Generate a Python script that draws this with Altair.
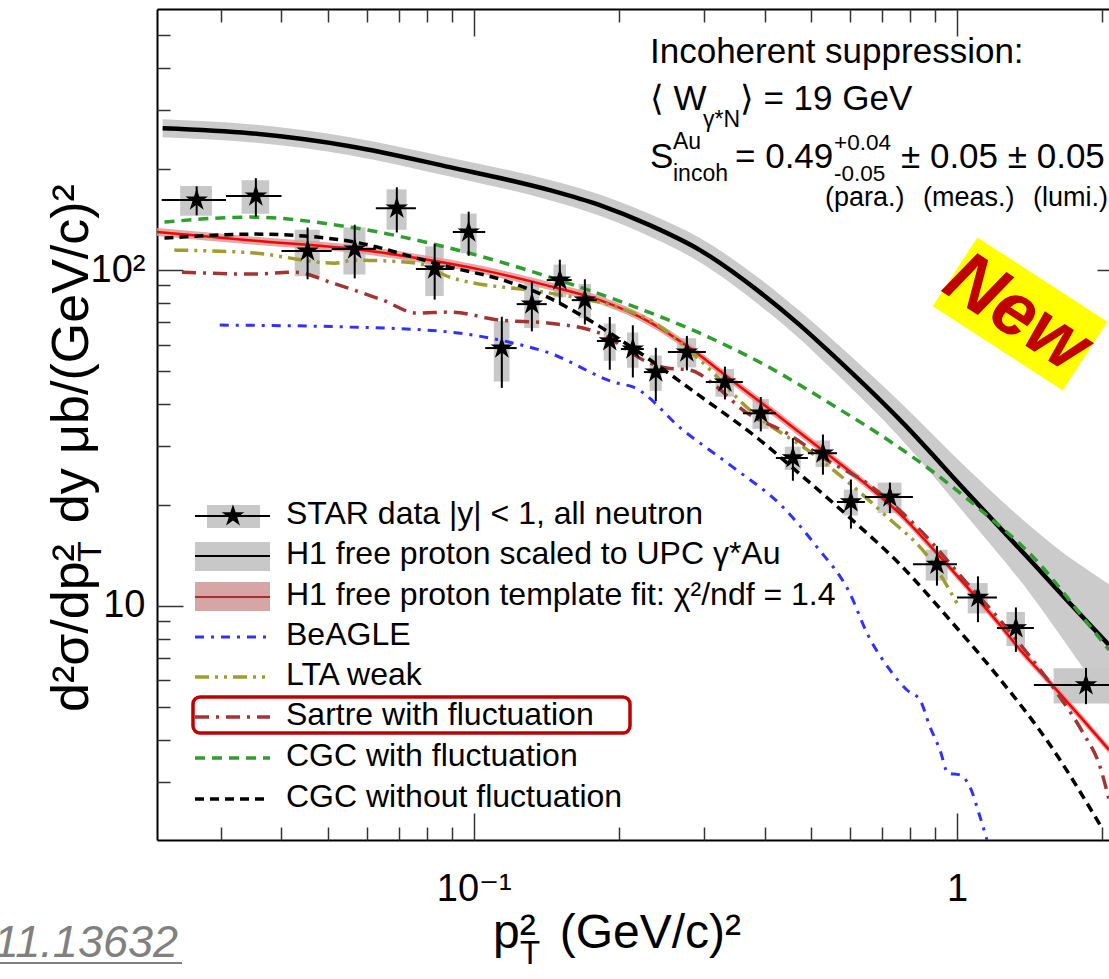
import altair as alt
import pandas as pd

FONT = "Liberation Sans, Arial, Helvetica, DejaVu Sans, sans-serif"

# ---------------- STAR data points ----------------
star_pt2 = [0.0267, 0.0354, 0.0453, 0.0567, 0.0693, 0.0830, 0.0976, 0.1143, 0.1319,
            0.1507, 0.1698, 0.1912, 0.2134, 0.2381, 0.2761, 0.3310, 0.3927, 0.4576,
            0.5280, 0.6034, 0.7265, 0.9091, 1.1053, 1.3245, 1.8496]
star_xsec = [161.6, 166.1, 113.9, 115.5, 152.9, 100.7, 129.8, 58.6, 79.2,
             93.4, 81.4, 61.5, 58.2, 49.7, 57.0, 46.4, 37.5, 27.6,
             28.5, 20.4, 21.1, 13.3, 10.6, 8.60, 5.82]
star_stat = [16.0, 21.7, 20.0, 21.0, 23.5, 19.0, 19.5, 14.0, 13.5,
             14.0, 12.5, 11.0, 10.3, 9.0, 6.7, 5.2, 4.4, 4.0,
             3.9, 3.4, 2.2, 1.8, 1.65, 1.3, 0.72]
star_sys = [16.5, 19.0, 18.0, 18.5, 21.0, 17.0, 17.5, 12.0, 12.0,
            10.5, 9.5, 7.8, 7.0, 6.0, 5.7, 4.4, 3.8, 2.2,
            2.6, 1.8, 2.2, 1.4, 1.1, 1.0, 0.7]
bin_edges = [0.0226, 0.0307, 0.0400, 0.0508, 0.0627, 0.0759, 0.0905, 0.1056, 0.1227,
             0.1416, 0.1595, 0.1798, 0.2016, 0.2249, 0.2522, 0.3022, 0.3606, 0.4220,
             0.4915, 0.5645, 0.6450, 0.8108, 1.0, 1.2100, 1.4430, 2.5]

# ---------------- model curves ----------------
h1_pt2 = [0.0227, 0.0344, 0.0554, 0.0892, 0.1436, 0.1823, 0.2313, 0.2938, 0.3908,
          0.4731, 0.5537, 0.7621, 1.0488, 1.4371, 1.6894, 1.9124, 2.0644]
h1_xsec = [264.6, 255.7, 233.9, 202.6, 173.0, 156.1, 136.1, 114.7, 86.0,
           68.6, 55.8, 35.8, 21.8, 13.4, 10.4, 8.60, 7.65]
h1_hi = [281.4, 272.0, 248.8, 216.2, 185.5, 168.0, 147.0, 124.6, 94.2,
         75.5, 61.9, 40.5, 25.7, 17.0, 14.1, 12.5, 11.6]
h1_lo = [248.8, 240.4, 219.9, 189.9, 161.4, 145.1, 126.0, 105.6, 78.5,
         62.4, 50.3, 31.7, 18.5, 10.6, 7.65, 5.93, 5.07]

fit_pt2 = [0.02207, 0.0352, 0.0567, 0.0762, 0.1044, 0.1436, 0.1823, 0.2313, 0.2801,
           0.3438, 0.4042, 0.5203, 0.6512, 0.7621, 0.8918, 1.0488, 1.2274, 1.3310,
           1.5804, 1.8235, 2.0644]
fit_xsec = [129.8, 122.3, 115.5, 108.6, 100.0, 89.6, 81.4, 70.0, 58.6,
            46.7, 39.1, 29.5, 22.9, 18.8, 14.8, 11.4, 8.78, 7.60,
            5.78, 4.58, 3.73]
fit_hi = [133.4, 125.7, 118.7, 111.6, 102.8, 92.1, 83.7, 72.0, 60.2,
          48.0, 40.2, 30.3, 23.5, 19.3, 15.2, 11.7, 9.03, 7.81,
          5.94, 4.71, 3.83]
fit_lo = [126.3, 119.0, 112.4, 105.7, 97.3, 87.2, 79.2, 68.1, 57.0,
          45.4, 38.0, 28.7, 22.3, 18.3, 14.4, 11.1, 8.54, 7.39,
          5.62, 4.45, 3.63]

beagle_pt2 = [0.0298, 0.0554, 0.0892, 0.1132, 0.1436, 0.1977, 0.2134, 0.2709, 0.3438,
              0.4363, 0.5129, 0.6004, 0.6512, 0.7265, 0.7880, 0.8383, 0.8792, 0.9221,
              0.9581, 1.0144, 1.0639, 1.1158, 1.1538]
beagle_xsec = [68.6, 67.7, 65.4, 61.9, 56.6, 46.1, 44.9, 33.4, 25.9,
               19.7, 15.0, 10.9, 8.31, 6.45, 5.62, 5.25, 4.37, 3.73,
               3.18, 3.14, 2.89, 2.36, 2.01]

lta_pt2 = [0.0240, 0.0352, 0.0515, 0.0567, 0.0762, 0.0892, 0.1436, 0.1977, 0.2313,
           0.2938, 0.3728, 0.5129, 0.7027, 0.8918, 1.0]
lta_xsec = [114.7, 112.4, 104.9, 107.1, 104.9, 95.3, 85.4, 77.6, 71.0,
            54.0, 38.3, 27.8, 18.9, 13.4, 10.2]

sartre_pt2 = [0.0249, 0.0352, 0.0426, 0.0510, 0.0648, 0.0762, 0.0892, 0.1132, 0.1436,
              0.1823, 0.2313, 0.2509, 0.2801, 0.3185, 0.3606, 0.4446, 0.5379, 0.6512,
              0.8264, 1.0488, 1.2274, 1.6106, 1.8235, 1.9779, 2.0644]
sartre_xsec = [98.6, 97.3, 98.6, 91.5, 81.4, 74.5, 75.0, 71.0, 69.5,
               64.9, 52.9, 51.1, 50.4, 44.9, 38.3, 32.7, 27.2, 23.2,
               17.2, 11.7, 9.08, 5.51, 4.19, 3.32, 2.65]

cgcf_pt2 = [0.0229, 0.0344, 0.0554, 0.0892, 0.1436, 0.2134, 0.2938, 0.4042, 0.5537,
            0.7370, 0.8918, 1.1319, 1.4371, 1.9124, 2.0644]
cgcf_xsec = [139.0, 143.8, 134.3, 116.3, 95.3, 78.1, 64.9, 51.8, 39.6,
             30.5, 25.1, 19.05, 14.0, 8.48, 7.40]

cgcn_pt2 = [0.0229, 0.0352, 0.0473, 0.0567, 0.0762, 0.0892, 0.1132, 0.1436, 0.1681,
            0.2134, 0.2938, 0.3908, 0.4731, 0.6004, 0.7621, 0.9672, 1.2274, 1.5578, 1.9779]
cgcn_xsec = [124.5, 128.0, 125.4, 121.2, 108.6, 102.1, 94.0, 82.5, 72.9,
             58.6, 42.2, 31.2, 24.7, 18.3, 13.3, 9.08, 6.06, 3.86, 2.23]

x_major = [0.1, 1]
x_minor = [0.03, 0.04, 0.05, 0.06, 0.07, 0.08, 0.09, 0.2, 0.3, 0.4, 0.5, 0.6, 0.7, 0.8, 0.9, 2]
y_major = [10, 100]
y_minor = [3, 4, 5, 6, 7, 8, 9, 20, 30, 40, 50, 60, 70, 80, 90, 200, 300, 400, 500]

# ---------------- layout ----------------
W, H = 952, 831
LEFT, TOP = 157, 9
xscale = alt.Scale(type="log", domain=[0.0221, 2.064], nice=False)
yscale = alt.Scale(type="log", domain=[2.01, 599], nice=False)

STAR = ("M0,-1 L0.223,-0.307 L0.951,-0.309 L0.361,0.117 L0.588,0.809 L0,0.38 "
        "L-0.588,0.809 L-0.361,0.117 L-0.951,-0.309 L-0.223,-0.307 Z")
STAR_SIZE = 560

one = pd.DataFrame({"k": [0]})


def X(f):
    return alt.X(f, type="quantitative", scale=xscale, axis=None)


def Y(f):
    return alt.Y(f, type="quantitative", scale=yscale, axis=None)


def curve_df(xs, ys):
    return pd.DataFrame({"x": xs, "y": ys})


def line(xs, ys, color, width, dash=None):
    kw = dict(color=color, strokeWidth=width, clip=True, interpolate="monotone")
    if dash:
        kw["strokeDash"] = dash
    return alt.Chart(curve_df(xs, ys)).mark_line(**kw).encode(x=X("x"), y=Y("y"))


def band(xs, lo, hi, color, opacity=1.0):
    df = pd.DataFrame({"x": xs, "lo": lo, "hi": hi})
    return alt.Chart(df).mark_area(color=color, opacity=opacity, clip=True,
                                   interpolate="monotone").encode(
        x=X("x"), y=Y("lo"), y2=alt.Y2("hi"))


def txt(s, px, py, size, align="left", baseline="alphabetic", angle=0,
        color="black", style="normal", weight="normal"):
    return alt.Chart(one).mark_text(
        text=s, font=FONT, fontSize=size, align=align, baseline=baseline,
        angle=angle, color=color, fontStyle=style, fontWeight=weight
    ).encode(x=alt.value(px - LEFT), y=alt.value(py - TOP))


def hrule(x1, x2, py, color, width, dash=None):
    kw = dict(color=color, strokeWidth=width)
    if dash:
        kw["strokeDash"] = dash
    return alt.Chart(one).mark_rule(**kw).encode(
        x=alt.value(x1 - LEFT), x2=alt.value(x2 - LEFT), y=alt.value(py - TOP))


def box(x1, y1, x2, y2, **kw):
    return alt.Chart(one).mark_rect(**kw).encode(
        x=alt.value(x1 - LEFT), x2=alt.value(x2 - LEFT),
        y=alt.value(y1 - TOP), y2=alt.value(y2 - TOP))


# ---------------- axes (ROOT-like frame with inward ticks) ----------------
def ax(**kw):
    base = dict(title=None, grid=False, labels=False, ticks=False, domain=False,
                tickColor="#333333", tickWidth=1.5, domainColor="black", domainWidth=2)
    base.update(kw)
    return alt.Axis(**base)


dummy = pd.DataFrame({"x": [0.1], "y": [10.0]})


def axis_layer(xa, ya):
    return alt.Chart(dummy).mark_point(opacity=0).encode(
        x=alt.X("x", type="quantitative", scale=xscale, axis=xa),
        y=alt.Y("y", type="quantitative", scale=yscale, axis=ya))


axis_layers = [
    axis_layer(
        ax(orient="bottom", domain=True, labels=True, values=x_major, tickSize=0,
           labelExpr="datum.value >= 1 ? '1' : '10⁻¹'", labelFont=FONT,
           labelFontSize=38, labelColor="black", labelPadding=30),
        ax(orient="left", domain=True, labels=True, values=y_major, tickSize=0,
           labelExpr="datum.value >= 100 ? '10²' : '10'", labelFont=FONT,
           labelFontSize=38, labelColor="black", labelPadding=12)),
    axis_layer(ax(orient="bottom", ticks=True, values=x_minor, tickSize=13, offset=-13),
               ax(orient="left", ticks=True, values=y_minor, tickSize=13, offset=-13)),
    axis_layer(ax(orient="bottom", ticks=True, values=x_major, tickSize=27, offset=-27),
               ax(orient="left", ticks=True, values=y_major, tickSize=26, offset=-26)),
    axis_layer(ax(orient="top", domain=True),
               ax(orient="right", ticks=True, values=y_major, tickSize=26, offset=-12)),
    axis_layer(ax(orient="top", ticks=True, values=x_minor, tickSize=13, offset=-13), None),
    axis_layer(ax(orient="top", ticks=True, values=x_major, tickSize=27, offset=-27), None),
]

# ---------------- data layers ----------------
pts = pd.DataFrame({"x": star_pt2, "y": star_xsec, "stat": star_stat, "sys": star_sys,
                    "xlo": bin_edges[:-1], "xhi": bin_edges[1:]})
pts["ylo"] = pts["y"] - pts["stat"]
pts["yhi"] = pts["y"] + pts["stat"]
pts["slo"] = pts["y"] - pts["sys"]
pts["shi"] = pts["y"] + pts["sys"]
half = (pts["xhi"] - pts["xlo"]) * 0.25
pts["bxlo"] = pts["x"] - half
pts["bxhi"] = pts["x"] + half

base_pts = alt.Chart(pts)
sys_boxes = base_pts.mark_rect(color="#c8c8c8", clip=True).encode(
    x=X("bxlo"), x2=alt.X2("bxhi"), y=Y("slo"), y2=alt.Y2("shi"))
xerr = base_pts.mark_rule(color="black", strokeWidth=2, clip=True).encode(
    x=X("xlo"), x2=alt.X2("xhi"), y=Y("y"))
yerr = base_pts.mark_rule(color="black", strokeWidth=2, clip=True).encode(
    x=X("x"), y=Y("ylo"), y2=alt.Y2("yhi"))
stars = base_pts.mark_point(shape=STAR, filled=True, color="black", size=STAR_SIZE,
                            opacity=1, clip=True).encode(x=X("x"), y=Y("y"))

GREEN = "#2f9e2f"
OLIVE = "#a09c30"
BROWN = "#a33434"
BLUE = "#3030ff"

data_layers = [
    band(h1_pt2, h1_lo, h1_hi, "#cbcbcb"),
    line(h1_pt2, h1_xsec, "black", 4.5),
    sys_boxes,
    band(fit_pt2, fit_lo, fit_hi, "#d79a9a", 0.85),
    line(fit_pt2, fit_xsec, "#ff0000", 2.5),
    line(beagle_pt2, beagle_xsec, BLUE, 3, [9, 7, 3, 7]),
    line(lta_pt2, lta_xsec, OLIVE, 3.5, [14, 6, 3, 6, 3, 6]),
    line(sartre_pt2, sartre_xsec, BROWN, 3.5, [14, 7, 3, 7]),
    line(cgcf_pt2, cgcf_xsec, GREEN, 3.5, [10, 7]),
    line(cgcn_pt2, cgcn_xsec, "black", 3.5, [9, 6]),
    xerr, yerr, stars,
]

# ---------------- legend ----------------
row_y = [516, 556, 597, 637, 677, 717, 758, 799]
labels = ["STAR data |y| < 1, all neutron",
          "H1 free proton scaled to UPC γ*Au",
          "H1 free proton template fit: χ²/ndf = 1.4",
          "BeAGLE", "LTA weak", "Sartre with fluctuation",
          "CGC with fluctuation", "CGC without fluctuation"]
legend = [
    box(207, 505, 260, 528, color="#c8c8c8"),
    hrule(195, 270, row_y[0], "black", 2),
    alt.Chart(one).mark_point(shape=STAR, filled=True, color="black", size=STAR_SIZE, opacity=1)
    .encode(x=alt.value(233 - LEFT), y=alt.value(row_y[0] - TOP)),
    box(195, 542, 270, 571, color="#c8c8c8"),
    hrule(195, 270, row_y[1], "black", 2),
    box(195, 582, 270, 611, color="#d6a6a6"),
    hrule(195, 270, row_y[2], "#b02a2a", 2),
    hrule(195, 270, row_y[3], BLUE, 3, [9, 7, 3, 7]),
    hrule(195, 270, row_y[4], OLIVE, 3.5, [14, 6, 3, 6, 3, 6]),
    hrule(195, 270, row_y[5], BROWN, 3.5, [14, 7, 3, 7]),
    hrule(195, 270, row_y[6], GREEN, 3.5, [10, 7]),
    hrule(195, 270, row_y[7], "black", 3.5, [9, 6]),
    box(193, 697, 630, 733, fillOpacity=0, stroke="#c00000", strokeWidth=3.5, cornerRadius=7),
]
for lab, ry_ in zip(labels, row_y):
    legend.append(txt(lab, 286, ry_ + 8, 32))

# ---------------- annotations ----------------
notes = [
    txt("Incoherent suppression:", 650, 63, 35),
    txt("⟨ W", 650, 110, 35),
    txt("γ*N", 703, 127, 23),
    txt("⟩ = 19 GeV", 740, 110, 35),
    txt("S", 650, 168, 35),
    txt("Au", 673, 149, 23),
    txt("incoh", 673, 181, 23),
    txt("= 0.49", 735, 168, 35),
    txt("+0.04", 834, 150, 22.5),
    txt("-0.05", 834, 181, 22.5),
    txt("± 0.05 ± 0.05", 901, 168, 35),
    txt("(para.)", 825, 206, 27),
    txt("(meas.)", 923, 206, 27),
    txt("(lumi.)", 1033, 206, 27),
    # "New" badge
    alt.Chart(one).mark_point(
        shape="M-1,-0.529 L1,-0.529 L1,0.529 L-1,0.529 Z", size=24025, angle=33,
        filled=True, color="#ffff00", opacity=1
    ).encode(x=alt.value(1020 - LEFT), y=alt.value(314 - TOP)),
    txt("New", 1017, 313, 75, align="center", baseline="middle", angle=33,
        color="#c00000", style="italic", weight="bold"),
    # axis titles
    txt("d²σ/dp²\u2009\u2009dy μb/(GeV/c)²", 88, 712, 52, angle=270),
    txt("T", 101, 562, 34, angle=270),
    txt("p²\u2002(GeV/c)²", 493, 948, 48),
    txt("T", 520, 964, 33),
    # reference link
    txt("arXiv:2311.13632", 178, 957, 45, align="right", color="#808080", style="italic"),
    hrule(0, 182, 963, "#808080", 2),
]

chart = alt.layer(*axis_layers, *data_layers, *legend, *notes).resolve_axis(
    x="independent", y="independent"
).properties(
    width=W, height=H,
    padding={"left": LEFT, "top": TOP, "right": 0, "bottom": 979 - TOP - H},
    autosize=alt.AutoSizeParams(type="none"),
    background="white",
).configure_view(stroke="transparent")

chart.save("out.html", embed_options={"renderer": "svg", "actions": False})
